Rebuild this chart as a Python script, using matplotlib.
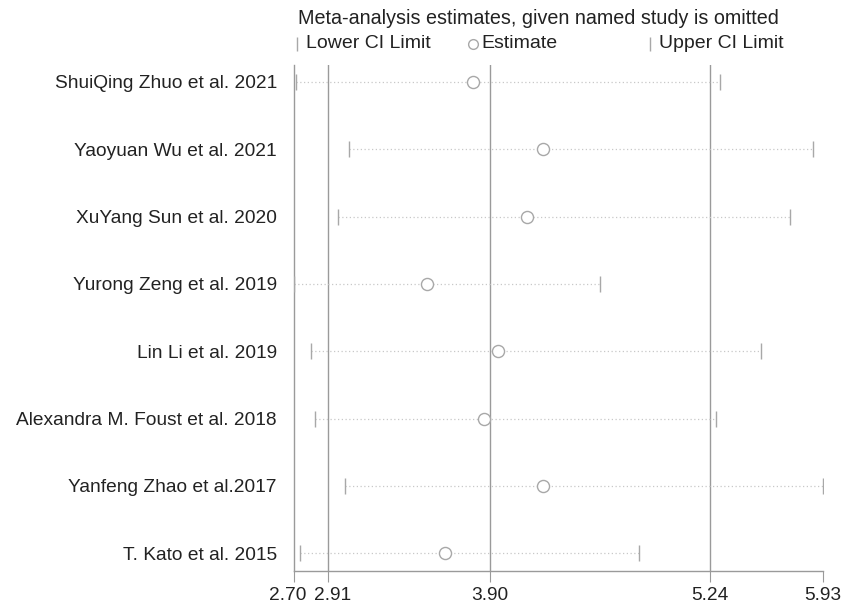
import matplotlib.pyplot as plt
from matplotlib.lines import Line2D
from matplotlib.transforms import ScaledTranslation
import numpy as np

plt.rcParams['font.family'] = ['Liberation Sans', 'DejaVu Sans']

# data
studies = [
    "ShuiQing Zhuo et al. 2021", "Yaoyuan Wu et al. 2021", "XuYang Sun et al. 2020",
    "Yurong Zeng et al. 2019", "Lin Li et al. 2019", "Alexandra M. Foust et al. 2018",
    "Yanfeng Zhao et al.2017", "T. Kato et al. 2015"
]
lower = [2.713, 3.037, 2.971, 2.70, 2.809, 2.833, 3.014, 2.739]
estimate = [3.794, 4.221, 4.124, 3.513, 3.948, 3.863, 4.223, 3.626]
upper = [5.304, 5.868, 5.729, 4.572, 5.554, 5.278, 5.93, 4.807]
ref_lines = [2.91, 3.90, 5.24]
xticks = [2.70, 2.91, 3.90, 5.24, 5.93]

grey = '#a8a8a8'
line_grey = '#9a9a9a'
txt = '#222222'

fig = plt.figure(figsize=(8.52, 6.08), dpi=100)
ax = fig.add_axes([0.3446, 0.0613, 0.6213, 0.8317])

y = np.arange(1, len(studies) + 1)

for xv in ref_lines:
    ax.axvline(xv, color=line_grey, lw=1, zorder=1)

# dotted CI lines
for yi, lo, hi in zip(y, lower, upper):
    ax.plot([lo, hi], [yi, yi], color='#c8c8c8', lw=0.9, ls=(0, (1, 2)), zorder=2)

ax.plot(lower, y, ls='none', marker='|', ms=11, mew=1, color=grey, zorder=3)
ax.plot(upper, y, ls='none', marker='|', ms=11, mew=1, color=grey, zorder=3)
ax.plot(estimate, y, ls='none', marker='o', ms=8.7, mfc='white', mec=grey, mew=1, zorder=4)

ax.set_xlim(2.70, 5.93)
ax.set_ylim(8.26, 0.75)
ax.set_yticks(y)
ax.set_yticklabels(studies, fontsize=13.8, color=txt)
ax.tick_params(axis='y', length=0, pad=12)
ax.set_xticks(xticks)
ax.set_xticklabels([f'{v:.2f}' for v in xticks], fontsize=13.8, color=txt)
ax.tick_params(axis='x', length=8, color=line_grey, pad=4)

# crowded first two tick labels pushed apart a little
shifts = [-6, 4.5, 0, 0, 0]
for lab, dx in zip(ax.get_xticklabels(), shifts):
    lab.set_transform(lab.get_transform() + ScaledTranslation(dx / 100, 0, fig.dpi_scale_trans))

for s in ['top', 'right']:
    ax.spines[s].set_visible(False)
for s in ['left', 'bottom']:
    ax.spines[s].set_color(line_grey)
    ax.spines[s].set_linewidth(1)

# title and legend row
fig.text(298 / 852, 1 - 18 / 608, 'Meta-analysis estimates, given named study is omitted',
         fontsize=14.2, ha='left', va='center', color=txt)
ly = 1 - 44 / 608
fig.add_artist(Line2D([297 / 852], [ly], marker='|', ms=10, color=grey, ls='none'))
fig.text(306 / 852, ly, 'Lower CI Limit', fontsize=14, ha='left', va='center', color=txt)
fig.add_artist(Line2D([473 / 852], [ly], marker='o', ms=7, mfc='white', mec=grey, ls='none'))
fig.text(481 / 852, ly, 'Estimate', fontsize=14, ha='left', va='center', color=txt)
fig.add_artist(Line2D([650 / 852], [ly], marker='|', ms=10, color=grey, ls='none'))
fig.text(659 / 852, ly, 'Upper CI Limit', fontsize=14, ha='left', va='center', color=txt)

fig.savefig('out.png', dpi=100)
